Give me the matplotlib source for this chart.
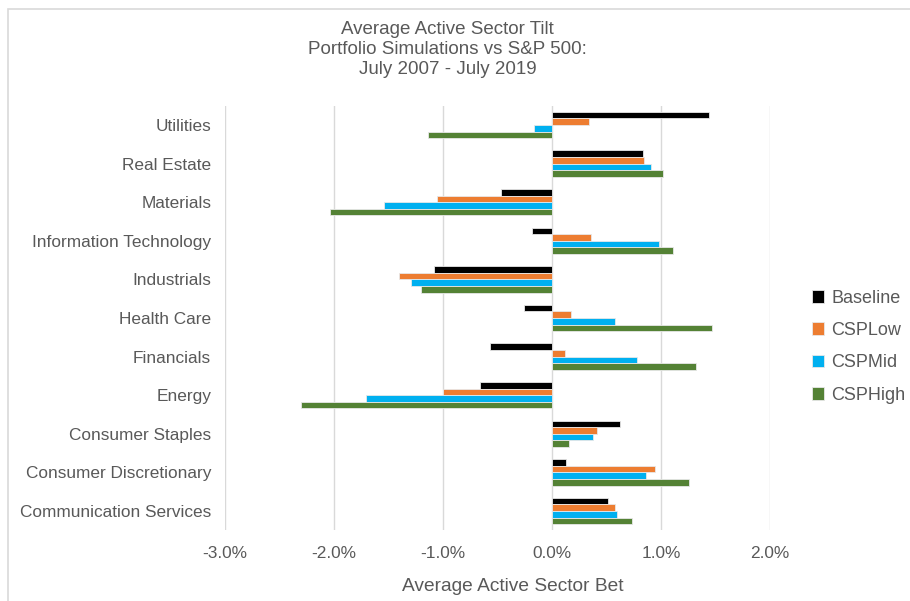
import numpy as np
import matplotlib
matplotlib.use("Agg")
import matplotlib.pyplot as plt
from matplotlib.patches import Rectangle
from matplotlib.ticker import FuncFormatter

plt.rcParams['font.family'] = ['Liberation Sans', 'DejaVu Sans']

sectors = ["Communication Services", "Consumer Discretionary", "Consumer Staples", "Energy",
           "Financials", "Health Care", "Industrials", "Information Technology",
           "Materials", "Real Estate", "Utilities"]

# average active sector bet, in %
baseline = [0.51, 0.13, 0.62, -0.66, -0.57, -0.26, -1.08, -0.18, -0.47, 0.83, 1.44]
csp_low  = [0.58, 0.94, 0.41, -1.00, 0.12, 0.17, -1.40, 0.36, -1.06, 0.84, 0.34]
csp_mid  = [0.60, 0.86, 0.38, -1.71, 0.78, 0.58, -1.29, 0.98, -1.54, 0.91, -0.17]
csp_high = [0.73, 1.26, 0.16, -2.30, 1.32, 1.47, -1.20, 1.11, -2.04, 1.02, -1.14]

series = ["Baseline", "CSPLow", "CSPMid", "CSPHigh"]
colors = ["#000000", "#ED7D31", "#00B0F0", "#548235"]

fig = plt.figure(figsize=(9.1, 6.01), dpi=100)
ax = fig.add_axes([0.2473, 0.1176, 0.5989, 0.7065])

y = np.arange(len(sectors))
h = 0.17
offsets = [1.5 * h, 0.5 * h, -0.5 * h, -1.5 * h]
for vals, name, c, off in zip([baseline, csp_low, csp_mid, csp_high], series, colors, offsets):
    ax.barh(y + off, vals, height=h, color=c, label=name, edgecolor="#e8e8e8", linewidth=0.6, zorder=3)

ax.set_xlim(-3, 2)
ax.set_ylim(-0.5, len(sectors) - 0.5)
ax.set_xticks([-3, -2, -1, 0, 1, 2])
ax.xaxis.set_major_formatter(FuncFormatter(lambda v, p: "%.1f%%" % v))
ax.set_yticks(y)
ax.set_yticklabels(sectors)
ax.tick_params(axis="both", length=0, labelsize=12.4, labelcolor="#595959")
ax.tick_params(axis="y", pad=10)
ax.tick_params(axis="x", pad=11)
ax.grid(axis="x", color="#D9D9D9", linewidth=1, zorder=0)
for s in ax.spines.values():
    s.set_visible(False)

fig.text(0.492, 0.918, "Average Active Sector Tilt\nPortfolio Simulations vs S&P 500:\nJuly 2007 - July 2019",
         ha="center", va="center", fontsize=13.5, color="#595959", linespacing=1.22)
fig.text(0.5637, 0.024, "Average Active Sector Bet", ha="center", va="center",
         fontsize=13.8, color="#595959")

fig.legend(loc="center left", bbox_to_anchor=(0.874, 0.423), frameon=False,
           handlelength=0.7, handleheight=0.7, handletextpad=0.4, labelspacing=0.85,
           prop={"size": 13}, labelcolor="#595959")

fig.patches.append(Rectangle((8 / 910, -0.1), 1.2, 1.1 - 9 / 601, transform=fig.transFigure,
                             fill=False, edgecolor="#D9D9D9", linewidth=1.2))

fig.savefig("out.png", dpi=100)
